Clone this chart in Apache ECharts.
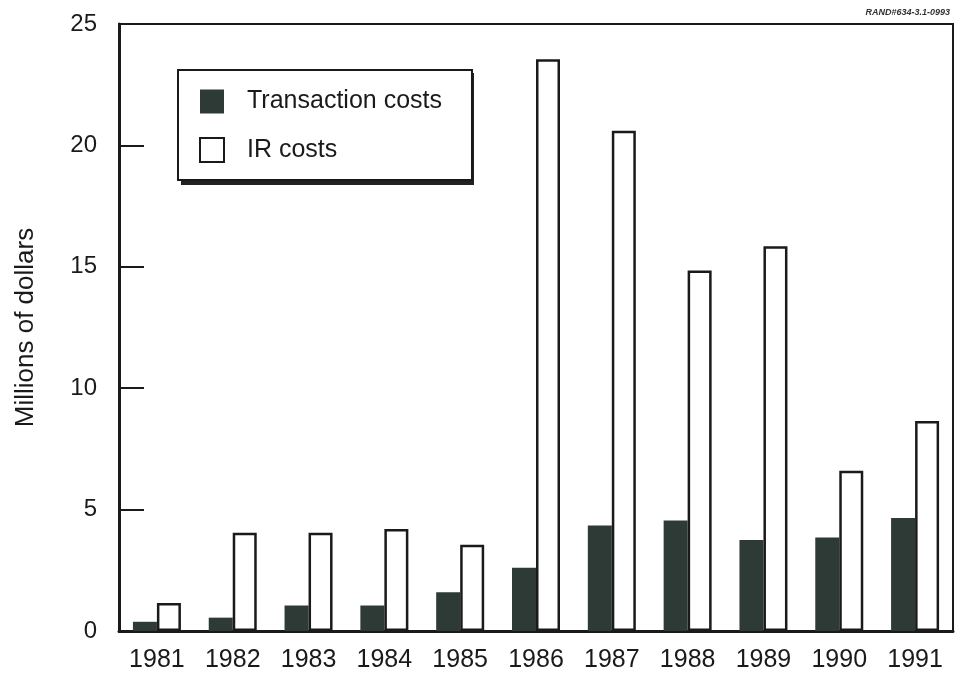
<!DOCTYPE html>
<html>
<head>
<meta charset="utf-8">
<script src="https://cdn.jsdelivr.net/npm/echarts@6/dist/echarts.min.js"></script>
<style>
  html, body { margin: 0; padding: 0; background: #fff; }
  #chart { width: 959px; height: 673px; }
</style>
</head>
<body>
<div id="chart"></div>
<script>
const years = ['1981', '1982', '1983', '1984', '1985', '1986', '1987', '1988', '1989', '1990', '1991'];
const transactionCosts = [0.38, 0.55, 1.05, 1.05, 1.6, 2.6, 4.35, 4.55, 3.75, 3.85, 4.65];
const irCosts = [1.15, 4.05, 4.05, 4.2, 3.55, 23.55, 20.6, 14.85, 15.85, 6.6, 8.65];

const font = '"Liberation Sans", Arial, sans-serif';
const ink = '#1a1a1a';

const chart = echarts.init(document.getElementById('chart'));
chart.setOption({
  animation: false,
  backgroundColor: '#fff',
  title: {
    text: 'RAND#634-3.1-0993',
    right: 4,
    top: 3,
    textStyle: { fontSize: 9, fontWeight: 'bold', fontStyle: 'italic', color: '#333', fontFamily: font }
  },
  // drop shadow under the legend box
  graphic: [{
    type: 'rect',
    z: 3,
    shape: { x: 181, y: 73, width: 293, height: 112 },
    style: { fill: '#222' }
  }],
  grid: {
    left: 119, right: 6, top: 24, bottom: 42,
    show: true, borderColor: ink, borderWidth: 2
  },
  legend: {
    orient: 'vertical',
    left: 178,
    top: 70,
    padding: [19, 30, 17, 21],
    itemWidth: 24,
    itemHeight: 24,
    itemGap: 23,
    icon: 'rect',
    backgroundColor: '#fff',
    borderColor: ink,
    borderWidth: 2,
    textStyle: { fontSize: 25, color: ink, fontFamily: font, padding: [0, 0, 0, 18] },
    data: ['Transaction costs', 'IR costs']
  },
  xAxis: {
    type: 'category',
    data: years,
    boundaryGap: true,
    axisLine: { lineStyle: { color: ink, width: 3 } },
    axisTick: { show: false },
    axisLabel: { fontSize: 25, color: ink, fontFamily: font, margin: 17 }
  },
  yAxis: {
    type: 'value',
    min: 0,
    max: 25,
    interval: 5,
    name: 'Millions of dollars',
    nameLocation: 'middle',
    nameGap: 80,
    nameTextStyle: { fontSize: 26, color: ink, fontFamily: font },
    axisLine: { show: true, lineStyle: { color: ink, width: 3 } },
    axisTick: { show: true, inside: true, length: 25, lineStyle: { color: ink, width: 2 } },
    axisLabel: { fontSize: 24, color: ink, fontFamily: font, margin: 22 },
    splitLine: { show: false }
  },
  series: [
    {
      name: 'Transaction costs',
      type: 'bar',
      data: transactionCosts,
      barWidth: 24,
      barGap: '0%',
      itemStyle: { color: '#2e3a35', borderColor: '#2e3a35', borderWidth: 0 }
    },
    {
      name: 'IR costs',
      type: 'bar',
      data: irCosts,
      barWidth: 24,
      itemStyle: { color: '#fff', borderColor: ink, borderWidth: 2.5 }
    }
  ]
});
</script>
</body>
</html>
